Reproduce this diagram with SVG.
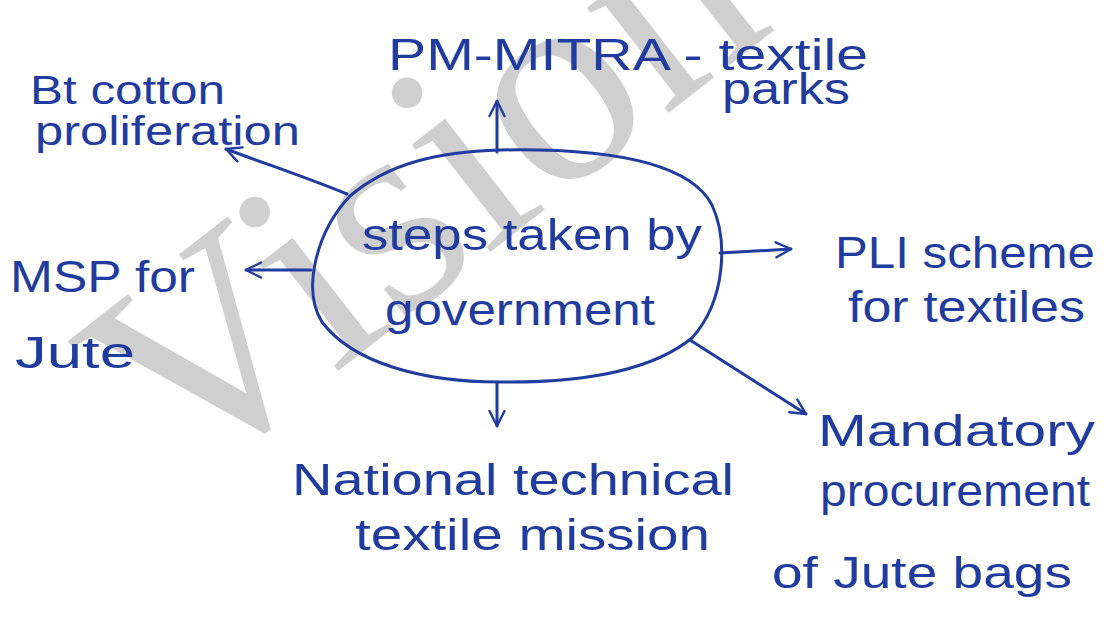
<svg xmlns="http://www.w3.org/2000/svg" width="1104" height="625" viewBox="0 0 1104 625">
  <defs>
    <style>
      .ink { font-family: "Liberation Sans", "Noto Sans", sans-serif; font-size: 44px; fill: #1f3c9e; }
      .sm { font-size: 40px; }
      .wm { font-family: "Liberation Serif", serif; font-size: 290px; fill: #cfcfcf; }
      .line { fill: none; stroke: #1f3c9e; stroke-width: 3; stroke-linecap: round; stroke-linejoin: round; }
    </style>
    <marker id="arrow" viewBox="0 0 12 12" refX="11" refY="6" markerWidth="6" markerHeight="6" markerUnits="strokeWidth" orient="auto">
      <path d="M1,1 L11,6 L1,11" fill="none" stroke="#1f3c9e" stroke-width="1.6" stroke-linecap="round" stroke-linejoin="round"/>
    </marker>
  </defs>
  <rect width="1104" height="625" fill="#ffffff"/>

  <g id="watermark">
    <text class="wm" x="182" y="493" transform="rotate(-38 182 493)">Vision</text>
  </g>

  <g id="center">
    <path class="line" d="M500,150 C610,148 690,163 712,205 C728,240 726,300 692,338 C650,372 580,383 500,382 C420,382 352,362 322,322 C302,290 316,232 350,196 C390,162 440,152 500,150 Z"/>
    <text class="ink"><tspan x="362" y="250" textLength="340" lengthAdjust="spacingAndGlyphs">steps taken by</tspan><tspan x="385" y="325" textLength="270" lengthAdjust="spacingAndGlyphs">government</tspan></text>
  </g>

  <g id="connectors">
    <line class="line" x1="497" y1="152" x2="497" y2="101" marker-end="url(#arrow)"/>
    <path class="line" d="M347,194 C300,175 260,162 226,149" marker-end="url(#arrow)"/>
    <line class="line" x1="311" y1="270" x2="246" y2="270" marker-end="url(#arrow)"/>
    <line class="line" x1="720" y1="253" x2="791" y2="249" marker-end="url(#arrow)"/>
    <line class="line" x1="690" y1="340" x2="806" y2="414" marker-end="url(#arrow)"/>
    <line class="line" x1="497" y1="382" x2="497" y2="426" marker-end="url(#arrow)"/>
  </g>

  <g id="node-pmmitra">
    <text class="ink"><tspan x="388" y="70" textLength="480" lengthAdjust="spacingAndGlyphs">PM-MITRA - textile</tspan><tspan x="722" y="104" textLength="128" lengthAdjust="spacingAndGlyphs">parks</tspan></text>
  </g>

  <g id="node-btcotton">
    <text class="ink sm"><tspan x="30" y="104" textLength="195" lengthAdjust="spacingAndGlyphs">Bt cotton</tspan><tspan x="35" y="145" textLength="265" lengthAdjust="spacingAndGlyphs">proliferation</tspan></text>
  </g>

  <g id="node-msp">
    <text class="ink"><tspan x="10" y="292" textLength="185" lengthAdjust="spacingAndGlyphs">MSP for</tspan><tspan x="15" y="368" textLength="120" lengthAdjust="spacingAndGlyphs">Jute</tspan></text>
  </g>

  <g id="node-pli">
    <text class="ink"><tspan x="835" y="268" textLength="260" lengthAdjust="spacingAndGlyphs">PLI scheme</tspan><tspan x="848" y="322" textLength="237" lengthAdjust="spacingAndGlyphs">for textiles</tspan></text>
  </g>

  <g id="node-mandatory">
    <text class="ink"><tspan x="818" y="446" textLength="277" lengthAdjust="spacingAndGlyphs">Mandatory</tspan><tspan x="820" y="506" textLength="270" lengthAdjust="spacingAndGlyphs">procurement</tspan><tspan x="772" y="588" textLength="300" lengthAdjust="spacingAndGlyphs">of Jute bags</tspan></text>
  </g>

  <g id="node-nttm">
    <text class="ink"><tspan x="292" y="495" textLength="442" lengthAdjust="spacingAndGlyphs">National technical</tspan><tspan x="355" y="550" textLength="355" lengthAdjust="spacingAndGlyphs">textile mission</tspan></text>
  </g>
</svg>
